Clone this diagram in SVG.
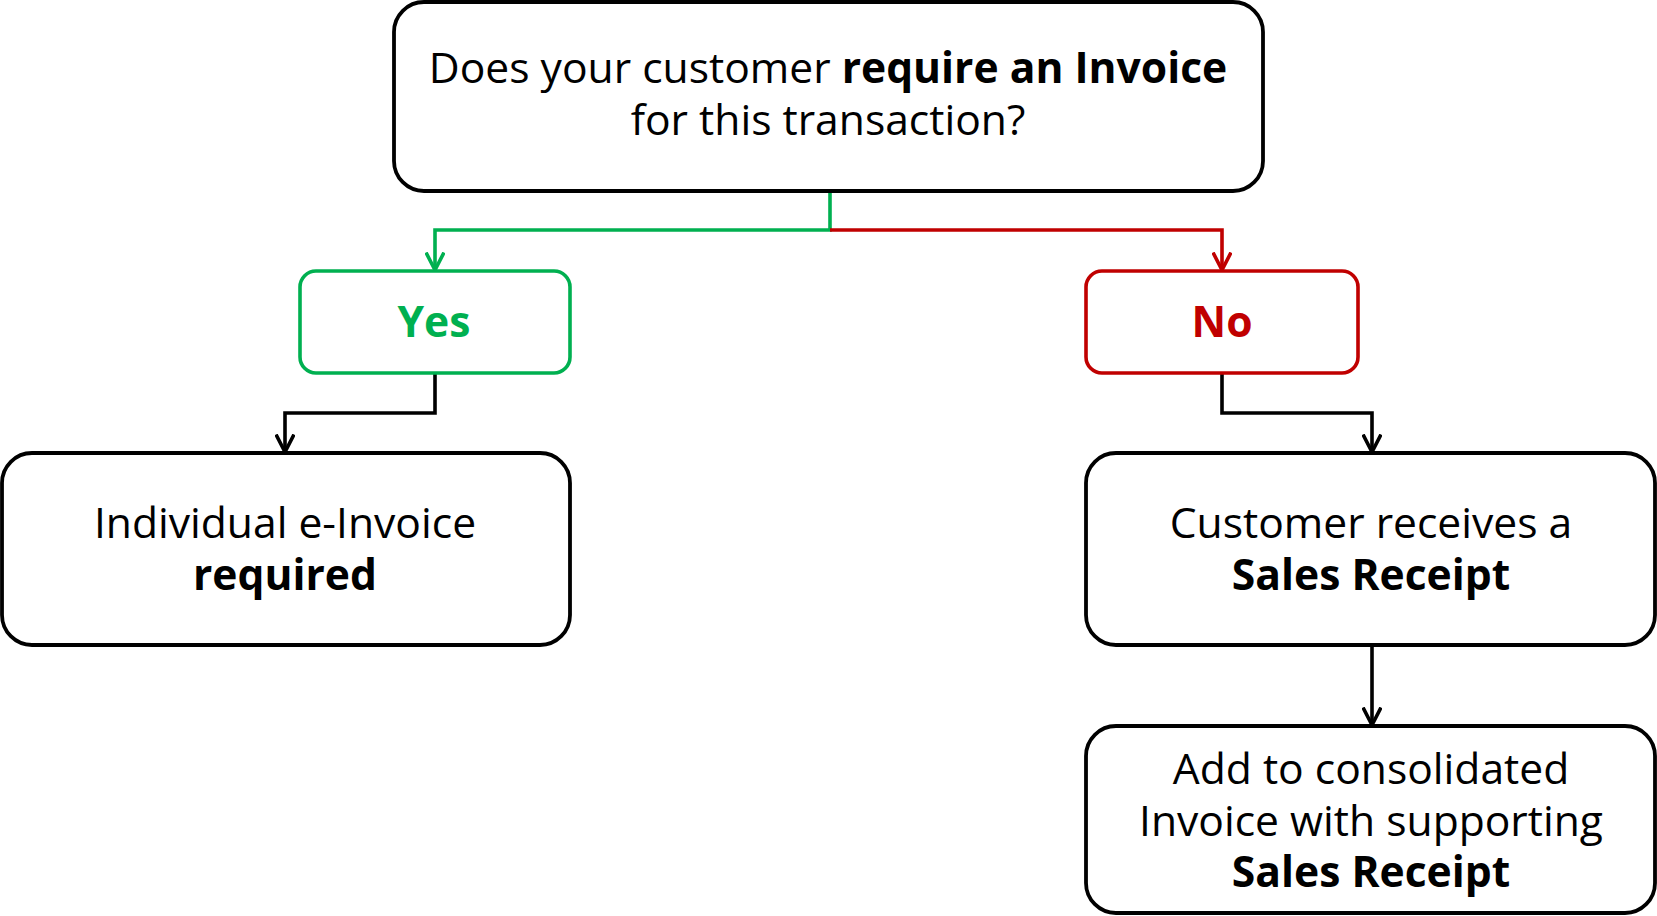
<svg xmlns="http://www.w3.org/2000/svg" width="1657" height="916" viewBox="0 0 1657 916">
<defs>
<style>
.box{fill:#fff;stroke:#000;stroke-width:3.8}
.yes{fill:#fff;stroke:#00B050;stroke-width:3.6}
.no{fill:#fff;stroke:#C00000;stroke-width:3.6}
text{font-family:"Open Sans","Noto Sans","Liberation Sans",sans-serif;font-size:42.6px;fill:#000;text-anchor:middle}
.b{font-weight:bold}
.conn{fill:none;stroke-width:3.6;stroke-linejoin:miter}
</style>
<marker id="ab" markerUnits="userSpaceOnUse" viewBox="0 0 20 20" refX="18.5" refY="10" markerWidth="20" markerHeight="20" orient="auto"><path d="M1,1 L18.5,10 L1,19" fill="none" stroke="#000" stroke-width="3.6"/></marker>
<marker id="ag" markerUnits="userSpaceOnUse" viewBox="0 0 20 20" refX="18.5" refY="10" markerWidth="20" markerHeight="20" orient="auto"><path d="M1,1 L18.5,10 L1,19" fill="none" stroke="#00B050" stroke-width="3.6"/></marker>
<marker id="ar" markerUnits="userSpaceOnUse" viewBox="0 0 20 20" refX="18.5" refY="10" markerWidth="20" markerHeight="20" orient="auto"><path d="M1,1 L18.5,10 L1,19" fill="none" stroke="#C00000" stroke-width="3.6"/></marker>
</defs>
<rect width="1657" height="916" fill="#fff"/>
<g id="connectors">
<path class="conn" stroke="#00B050" d="M830,191 V230 H435 V270" marker-end="url(#ag)"/>
<path class="conn" stroke="#C00000" d="M830,230 H1222 V270" marker-end="url(#ar)"/>
<path class="conn" stroke="#000" d="M435,373 V413 H285 V452" marker-end="url(#ab)"/>
<path class="conn" stroke="#000" d="M1222,373 V413 H1372 V452" marker-end="url(#ab)"/>
<path class="conn" stroke="#000" d="M1372,645 V725" marker-end="url(#ab)"/>
</g>
<g id="question">
<rect class="box" x="394" y="2" width="869" height="189" rx="30"/>
<text><tspan x="828" y="83">Does your customer <tspan class="b">require an Invoice</tspan></tspan><tspan x="828" y="135">for this transaction?</tspan></text>
</g>
<g id="yes">
<rect class="yes" x="300" y="271" width="270" height="102" rx="16"/>
<text class="b" x="434" y="337" style="fill:#00B050">Yes</text>
</g>
<g id="no">
<rect class="no" x="1086" y="271" width="272" height="102" rx="16"/>
<text class="b" x="1222" y="337" style="fill:#C00000">No</text>
</g>
<g id="individual">
<rect class="box" x="2" y="453" width="568" height="192" rx="30"/>
<text><tspan x="285" y="538">Individual e-Invoice</tspan><tspan class="b" x="285" y="590">required</tspan></text>
</g>
<g id="receipt">
<rect class="box" x="1086" y="453" width="569" height="192" rx="30"/>
<text><tspan x="1371" y="538">Customer receives a</tspan><tspan class="b" x="1371" y="590">Sales Receipt</tspan></text>
</g>
<g id="consolidated">
<rect class="box" x="1086" y="726" width="569" height="187" rx="30"/>
<text><tspan x="1371" y="784">Add to consolidated</tspan><tspan x="1371" y="836">Invoice with supporting</tspan><tspan class="b" x="1371" y="887">Sales Receipt</tspan></text>
</g>
</svg>
